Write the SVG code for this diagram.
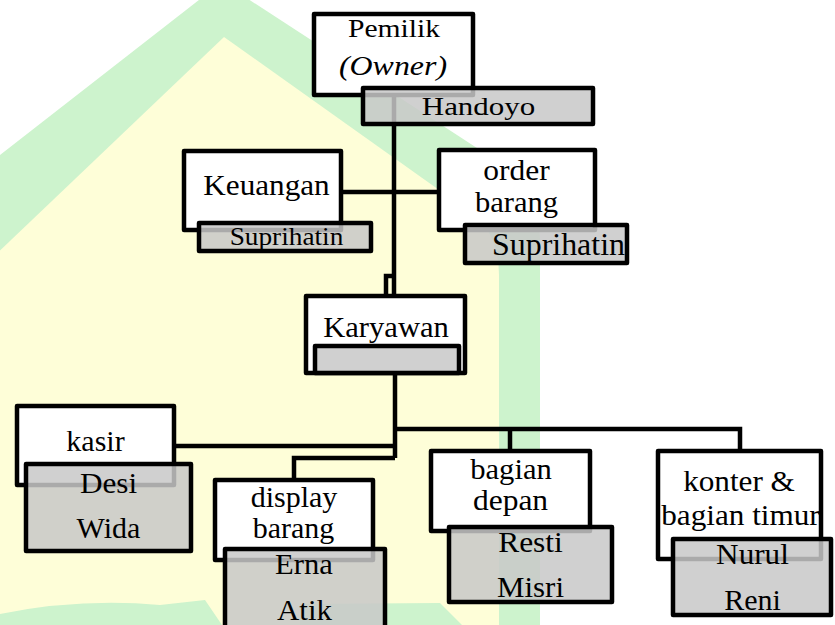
<svg xmlns="http://www.w3.org/2000/svg" width="835" height="625" viewBox="0 0 835 625">
<style>
.box{fill:#ffffff;stroke:#000;stroke-width:4.5;stroke-linejoin:round}
.name{fill:#c8c8c8;fill-opacity:0.85;stroke:#000;stroke-width:4.5;stroke-linejoin:round}
.con{fill:none;stroke:#000;stroke-width:4.5;stroke-linejoin:miter}
</style>
<rect x="0" y="0" width="835" height="625" fill="#ffffff"/>
<g id="watermark">
<path d="M-200,311 L222,-18 L500,163 Q540,190 540,240 L540,625 L-200,625 Z" fill="#cdf3cd"/>
<path d="M-120,365 L224,37 L470,212 Q499,233 499,275 L499,625 L-120,625 Z" fill="#fefed8"/>
<path d="M0,614 Q80,598 160,605 L205,600 L222,625 L0,625 Z" fill="#cdf3cd"/>
<path d="M300,604 L440,603 L462,625 L300,625 Z" fill="#cdf3cd"/>
</g>
<g id="connectors">
<path class="con" d="M394,97 V294"/>
<path class="con" d="M394,276 H386 V294"/>
<path class="con" d="M343,192 H437"/>
<path class="con" d="M395,375 V458"/>
<path class="con" d="M395,429 H740 V449"/>
<path class="con" d="M510,429 V449"/>
<path class="con" d="M176,446 H395"/>
<path class="con" d="M395,458 H294 V478"/>
</g>
<g id="pemilik">
<rect class="box" x="314" y="14" width="159" height="81"/>
<text transform="translate(394,37) scale(1.14,1)" text-anchor="middle" font-family="Liberation Serif" font-size="26">Pemilik</text>
<text transform="translate(393,75) scale(1.14,1)" text-anchor="middle" font-family="Liberation Serif" font-size="28" font-style="italic">(Owner)</text>
<rect class="name" x="363" y="88" width="230" height="36"/>
<text transform="translate(478.5,115) scale(1.19,1)" text-anchor="middle" font-family="Liberation Serif" font-size="26">Handoyo</text>
</g>
<g id="keuangan">
<rect class="box" x="184" y="151" width="157" height="79"/>
<text transform="translate(266.5,195) scale(1.04,1)" text-anchor="middle" font-family="Liberation Serif" font-size="30">Keuangan</text>
<rect class="name" x="199" y="223" width="172" height="28"/>
<text transform="translate(286.5,245) scale(1.05,1)" text-anchor="middle" font-family="Liberation Serif" font-size="26">Suprihatin</text>
</g>
<g id="order-barang">
<rect class="box" x="439" y="150" width="156" height="80"/>
<text transform="translate(516.5,180) scale(1.05,1)" text-anchor="middle" font-family="Liberation Serif" font-size="30">order</text>
<text transform="translate(516.5,212) scale(1.02,1)" text-anchor="middle" font-family="Liberation Serif" font-size="30">barang</text>
<rect class="name" x="465" y="225" width="162" height="38"/>
<text transform="translate(558.5,255) scale(1.03,1)" text-anchor="middle" font-family="Liberation Serif" font-size="31">Suprihatin</text>
</g>
<g id="karyawan">
<rect class="box" x="306" y="296" width="159" height="77"/>
<text transform="translate(386,337) scale(1.02,1)" text-anchor="middle" font-family="Liberation Serif" font-size="30">Karyawan</text>
<rect class="name" x="315" y="346" width="144" height="27"/>
</g>
<g id="kasir">
<rect class="box" x="17" y="406" width="157" height="79"/>
<text x="95.5" y="451" text-anchor="middle" font-family="Liberation Serif" font-size="30">kasir</text>
<rect class="name" x="26" y="464" width="165" height="87"/>
<text transform="translate(108.5,493) scale(1.04,1)" text-anchor="middle" font-family="Liberation Serif" font-size="30">Desi</text>
<text x="108.5" y="538" text-anchor="middle" font-family="Liberation Serif" font-size="30">Wida</text>
</g>
<g id="display-barang">
<rect class="box" x="215" y="480" width="158" height="80"/>
<text x="294" y="507" text-anchor="middle" font-family="Liberation Serif" font-size="30">display</text>
<text x="293.5" y="538" text-anchor="middle" font-family="Liberation Serif" font-size="30">barang</text>
<rect class="name" x="225" y="549" width="160" height="90"/>
<text transform="translate(304,574) scale(1.02,1)" text-anchor="middle" font-family="Liberation Serif" font-size="30">Erna</text>
<text transform="translate(304.5,620) scale(1.03,1)" text-anchor="middle" font-family="Liberation Serif" font-size="30">Atik</text>
</g>
<g id="bagian-depan">
<rect class="box" x="431" y="451" width="159" height="80"/>
<text transform="translate(511,479) scale(1.02,1)" text-anchor="middle" font-family="Liberation Serif" font-size="30">bagian</text>
<text transform="translate(510.5,510) scale(1.05,1)" text-anchor="middle" font-family="Liberation Serif" font-size="30">depan</text>
<rect class="name" x="449" y="527" width="163" height="75"/>
<text transform="translate(530.5,552) scale(1.05,1)" text-anchor="middle" font-family="Liberation Serif" font-size="30">Resti</text>
<text transform="translate(530.5,597) scale(1.03,1)" text-anchor="middle" font-family="Liberation Serif" font-size="30">Misri</text>
</g>
<g id="konter-bagian-timur">
<rect class="box" x="658" y="451" width="163" height="108"/>
<text transform="translate(739,491) scale(1.04,1)" text-anchor="middle" font-family="Liberation Serif" font-size="30">konter &amp;</text>
<text transform="translate(740.5,525) scale(1.04,1)" text-anchor="middle" font-family="Liberation Serif" font-size="30">bagian timur</text>
<rect class="name" x="673" y="539" width="158" height="76"/>
<text transform="translate(752.5,564) scale(1.04,1)" text-anchor="middle" font-family="Liberation Serif" font-size="30">Nurul</text>
<text x="752.5" y="610" text-anchor="middle" font-family="Liberation Serif" font-size="30">Reni</text>
</g>
</svg>
